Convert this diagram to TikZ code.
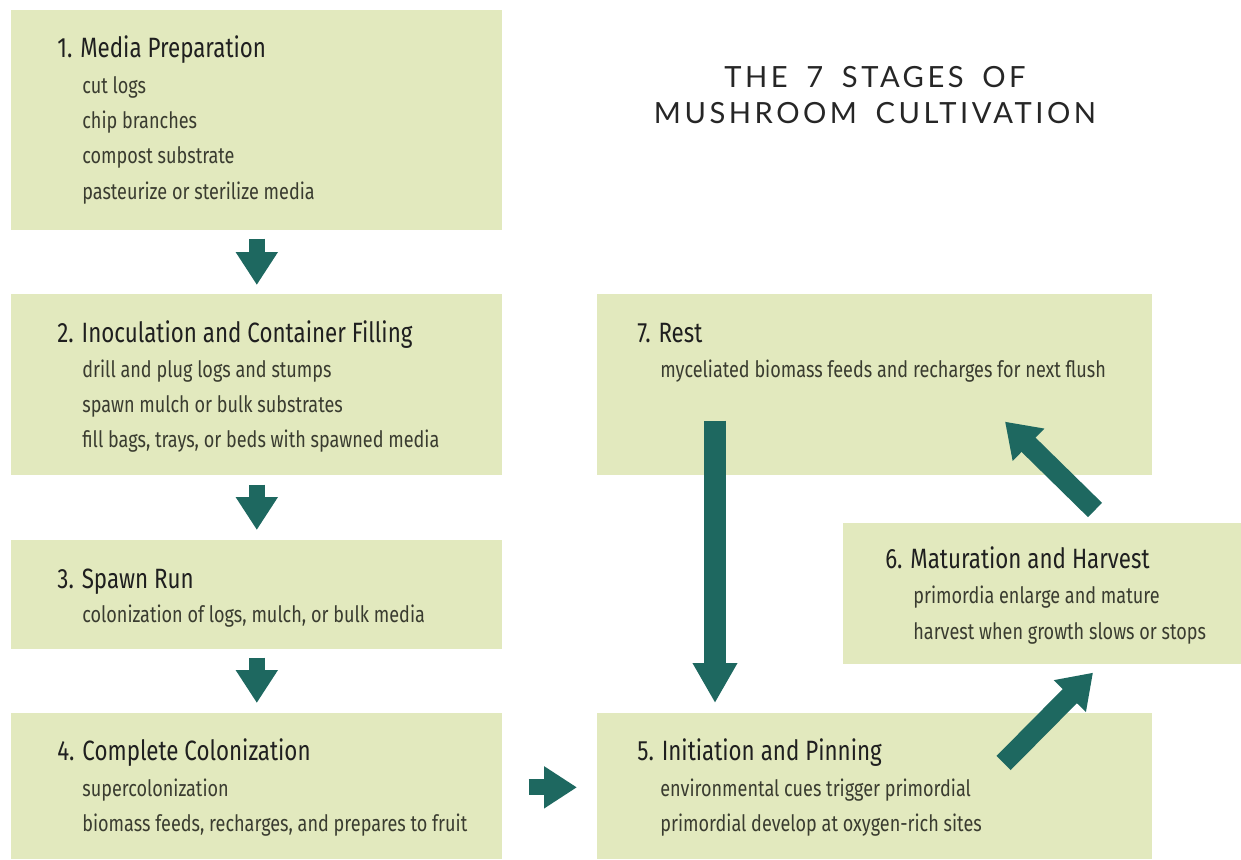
\documentclass[tikz,border=0pt]{standalone}
\usepackage{fontspec}
\setmainfont{Fira Sans}[FakeStretch=0.8]
\newfontfamily\titlefont{Lato}[LetterSpace=12, WordSpace=1.7]
\usetikzlibrary{arrows.meta,positioning}

\definecolor{stagefill}{RGB}{226,233,190}
\definecolor{arrowteal}{RGB}{30,104,96}
\definecolor{bodytext}{RGB}{58,60,48}

\tikzset{
  stagebox/.style={fill=stagefill, draw=none, anchor=north west, inner sep=0pt},
  heading/.style={anchor=base west, inner sep=0pt, text=black!88,
    font=\fontsize{15.9}{18}\selectfont},
  detail/.style={anchor=base west, inner sep=0pt, text=bodytext,
    font=\fontsize{12.85}{16}\selectfont},
  titleline/.style={anchor=base, inner sep=0pt, text=black!85,
    font=\titlefont\fontsize{16.6}{20}\selectfont},
  fatarrow/.style={draw=arrowteal, line width=0.32cm,
    -{Triangle[width=0.8cm,length=0.66cm]}},
}

\begin{document}
\begin{tikzpicture}[x=0.02cm, y=-0.02cm]
\useasboundingbox (0,0) rectangle (1241,859);

% stage boxes
\node[stagebox, minimum width=9.82cm, minimum height=4.4cm] (b1) at (11,10) {};
\node[stagebox, minimum width=9.82cm, minimum height=3.62cm] (b2) at (11,294) {};
\node[stagebox, minimum width=9.82cm, minimum height=2.18cm] (b3) at (11,540) {};
\node[stagebox, minimum width=9.82cm, minimum height=2.92cm] (b4) at (11,713) {};
\node[stagebox, minimum width=11.1cm, minimum height=2.92cm] (b5) at (597,713) {};
\node[stagebox, minimum width=7.96cm, minimum height=2.82cm] (b6) at (843,523) {};
\node[stagebox, minimum width=11.1cm, minimum height=3.62cm] (b7) at (597,294) {};

% title
\node[titleline] (title1) at (875,87) {THE 7 STAGES OF};
\node[titleline] (title2) at (875,123) {MUSHROOM CULTIVATION};

% 1
\node[heading] (h1) at (57,57) {1. Media Preparation};
\foreach \t [count=\i] in {cut logs, chip branches, compost substrate,
    pasteurize or sterilize media}
  \node[detail] (d1-\i) at (82,{93+35.4*(\i-1)}) {\t};

% 2
\node[heading] (h2) at (57,342) {2. Inoculation and Container Filling};
\foreach \t [count=\i] in {drill and plug logs and stumps,
    spawn mulch or bulk substrates,
    {fill bags, trays, or beds with spawned media}}
  \node[detail] (d2-\i) at (82,{377+35.4*(\i-1)}) {\t};

% 3
\node[heading] (h3) at (57,588) {3. Spawn Run};
\node[detail] (d3-1) at (82,622) {colonization of logs, mulch, or bulk media};

% 4
\node[heading] (h4) at (57,760) {4. Complete Colonization};
\node[detail] (d4-1) at (82,796) {supercolonization};
\node[detail] (d4-2) at (82,831) {biomass feeds, recharges, and prepares to fruit};

% 5
\node[heading] (h5) at (637,760) {5. Initiation and Pinning};
\node[detail] (d5-1) at (660,796) {environmental cues trigger primordial};
\node[detail] (d5-2) at (660,831) {primordial develop at oxygen-rich sites};

% 6
\node[heading] (h6) at (885,568) {6. Maturation and Harvest};
\node[detail] (d6-1) at (913,603) {primordia enlarge and mature};
\node[detail] (d6-2) at (913,639) {harvest when growth slows or stops};

% 7
\node[heading] (h7) at (637,342) {7. Rest};
\node[detail] (d7-1) at (660,377) {myceliated biomass feeds and recharges for next flush};

% arrows between stages
\draw[fatarrow, shorten <=0.16cm, shorten >=0.18cm] (b1.south) -- (b2.north);
\draw[fatarrow, shorten <=0.18cm, shorten >=0.2cm] (b2.south) -- (b3.north);
\draw[fatarrow, shorten <=0.16cm, shorten >=0.2cm] (b3.south) -- (b4.north);
\draw[fatarrow, shorten <=0.52cm, shorten >=0.4cm] ([yshift=-0.02cm]b4.east) -- ([yshift=-0.02cm]b5.west);
\draw[fatarrow, line width=0.44cm, -{Triangle[width=0.84cm,length=0.8cm]}]
  ([shift={(118,-55)}]b7.south west) -- ([shift={(118,-10)}]b5.north west);
\draw[fatarrow, line width=0.4cm, -{Triangle[width=0.86cm,length=0.66cm]}]
  ([shift={(-149,50)}]b5.north east) -- ([shift={(250,8)}]b6.south west);
\draw[fatarrow, line width=0.4cm, -{Triangle[width=0.86cm,length=0.66cm]}]
  ([shift={(252,-13)}]b6.north west) -- ([shift={(408,-54)}]b7.south west);
\end{tikzpicture}
\end{document}
